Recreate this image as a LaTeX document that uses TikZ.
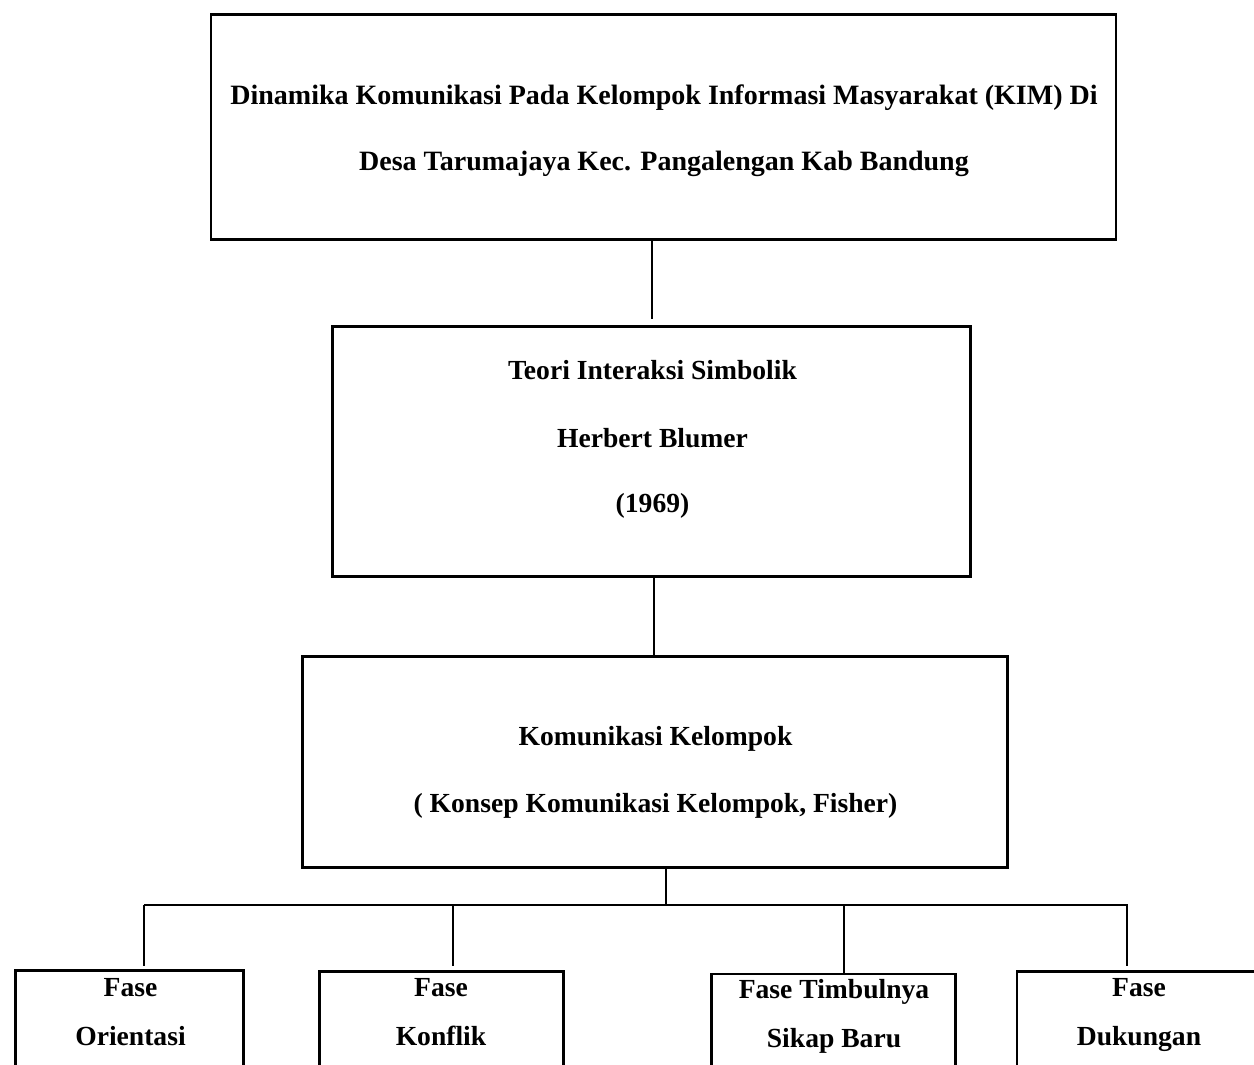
\documentclass[tikz,border=0pt]{standalone}
\usepackage{fontspec}
\setmainfont{Liberation Serif}
\begin{document}
\begin{tikzpicture}[x=1pt,y=-1pt,
  box/.style={draw=black,line width=2.6pt,rectangle,inner sep=0pt,fill=none},
  txt/.style={anchor=base,inner sep=0pt,font=\fontsize{27.6}{33}\selectfont\bfseries},
  ttxt/.style={anchor=base,inner sep=0pt,font=\fontsize{28}{33}\selectfont\bfseries},
  conn/.style={draw=black,line width=1.8pt}]
\useasboundingbox (0,0) rectangle (1254,1065);
\clip (0,0) rectangle (1254,1065);
\fill[white] (0,0) rectangle (1254,1065);

% boxes
\node[box,minimum width=905pt,minimum height=225pt] (top) at (663.5,127) {};
\node[box,minimum width=638pt,minimum height=250pt] (teori) at (651.5,451.5) {};
\node[box,minimum width=705pt,minimum height=211pt] (kom) at (655,762) {};
\node[box,minimum width=228pt,minimum height=200pt] (fa) at (129.5,1070.5) {};
\node[box,minimum width=244pt,minimum height=200pt] (fb) at (441.5,1071.5) {};
\node[box,minimum width=244pt,minimum height=200pt] (fc) at (833.5,1074) {};
\node[box,minimum width=244pt,minimum height=200pt] (fd) at (1139,1071.5) {};

% texts
\node[ttxt] (t1) at (664,105) {Dinamika Komunikasi Pada Kelompok Informasi Masyarakat (KIM) Di};
\node[ttxt] (t2) at (664,170) {Desa Tarumajaya Kec. Pangalengan Kab Bandung};
\node[txt] (t3) at (652.5,379) {Teori Interaksi Simbolik};
\node[txt] (t4) at (652.5,447) {Herbert Blumer};
\node[txt] (t5) at (652.5,512) {(1969)};
\node[txt] (t6) at (655.5,745) {Komunikasi Kelompok};
\node[txt] (t7) at (655.5,812) {( Konsep Komunikasi Kelompok, Fisher)};
\node[txt] (a1) at (130.5,996) {Fase};
\node[txt] (a2) at (130.5,1045) {Orientasi};
\node[txt] (b1) at (441,996) {Fase};
\node[txt] (b2) at (441,1045) {Konflik};
\node[txt] (c1) at (834,998) {Fase Timbulnya};
\node[txt] (c2) at (834,1047) {Sikap Baru};
\node[txt] (d1) at (1139,996) {Fase};
\node[txt] (d2) at (1139,1045) {Dukungan};

% connectors
\coordinate (j1) at (652,319);
\coordinate (j2) at (654,0);
\coordinate (hub) at (666,905);
\coordinate (hl) at (144,905);
\coordinate (hr) at (1128,905);
\coordinate (ea) at (144,966);
\coordinate (eb) at (453,966);
\coordinate (ec) at (844,905);
\coordinate (ed) at (1127,966);

\draw[conn] (j1 |- top.south) -- (j1);
\draw[conn] (j2 |- teori.south) -- (j2 |- kom.north);
\draw[conn] (hub |- kom.south) -- (hub);
\draw[conn] (hl) -- (hr);
\draw[conn] (hl) -- (ea);
\draw[conn] (eb |- hl) -- (eb);
\draw[conn] (ec) -- (ec |- fc.north);
\draw[conn] (ed |- hl) -- (ed);
\end{tikzpicture}
\end{document}
